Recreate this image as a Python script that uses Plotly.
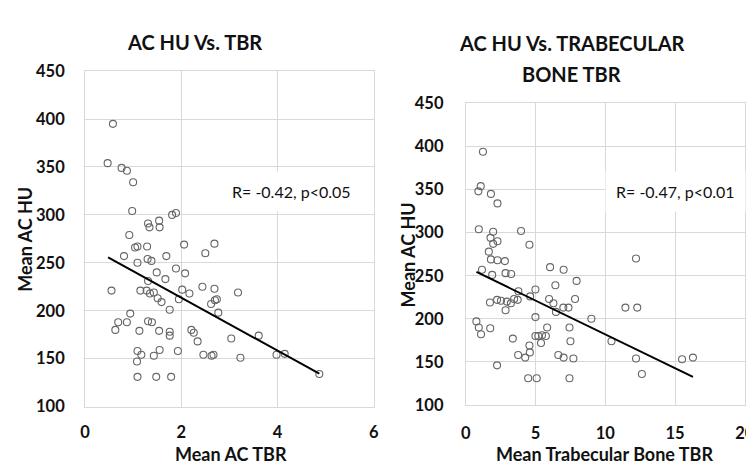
import plotly.graph_objects as go

# Left chart: Mean AC TBR vs Mean AC HU
ac_tbr = [0.58, 0.47, 0.76, 0.87, 1.00, 0.98, 1.31, 1.34, 1.54, 1.55, 1.81, 1.89, 0.92,
          1.04, 1.09, 1.29, 2.06, 2.69, 0.81, 2.50, 1.09, 1.30, 1.38, 1.69, 1.49, 1.89,
          2.08, 1.67, 1.31, 0.55, 1.15, 1.28, 1.35, 1.43, 1.51, 1.59, 2.02, 2.17, 1.95,
          2.44, 2.69, 3.18, 2.74, 2.70, 2.62, 2.77, 1.76, 0.94, 0.69, 0.87, 0.63, 1.13,
          1.31, 1.39, 1.54, 1.76, 1.76, 2.21, 2.26, 2.34, 3.04, 3.61, 1.09, 1.17, 1.55,
          1.43, 1.93, 2.46, 2.63, 2.67, 3.23, 1.08, 1.09, 1.48, 1.79, 3.98, 4.15, 4.87]
ac_hu_left = [395, 354, 349, 346, 334, 304, 291, 287, 294, 287, 300, 302, 279,
              266, 267, 267, 269, 270, 257, 260, 250, 254, 252, 257, 240, 244,
              239, 233, 231, 221, 221, 221, 218, 219, 213, 209, 222, 218, 212,
              225, 223, 219, 212, 211, 207, 198, 201, 197, 188, 188, 180, 179,
              189, 188, 179, 178, 174, 180, 177, 168, 171, 174, 158, 154, 159,
              153, 158, 154, 153, 154, 151, 147, 131, 131, 131, 154, 155, 134]
trend_left_x = [0.48, 4.87]
trend_left_y = [255.7, 134.3]

# Right chart: Mean Trabecular Bone TBR vs Mean AC HU
tb_tbr = [1.23, 1.07, 0.90, 1.80, 2.27, 0.93, 1.96, 3.96, 1.77, 2.27, 1.96, 4.56, 1.65,
          1.80, 2.27, 2.80, 6.04, 7.01, 1.16, 1.89, 2.85, 3.25, 7.94, 6.42, 3.77, 4.99,
          4.61, 1.73, 2.24, 2.52, 2.94, 3.23, 3.46, 3.72, 2.85, 5.97, 6.28, 7.83, 6.99,
          7.36, 6.46, 4.99, 9.00, 0.76, 0.93, 1.09, 1.75, 7.43, 5.83, 4.99, 5.20, 5.46,
          5.74, 5.39, 3.37, 7.50, 4.56, 4.59, 3.75, 4.26, 6.63, 7.01, 7.71, 10.44, 2.24,
          4.47, 5.08, 7.43, 12.20, 11.44, 12.29, 12.20, 12.62, 15.50, 16.28]
ac_hu_right = [394, 354, 348, 345, 334, 304, 301, 302, 294, 290, 287, 286, 278,
               269, 268, 267, 260, 257, 257, 251, 253, 252, 244, 239, 232, 234,
               226, 219, 222, 221, 220, 218, 223, 222, 210, 223, 218, 223, 213,
               213, 208, 202, 200, 197, 190, 182, 189, 190, 190, 180, 180, 181,
               180, 172, 177, 174, 169, 161, 158, 155, 158, 155, 154, 174, 146,
               131, 131, 131, 270, 213, 213, 154, 136, 153, 155]
trend_right_x = [0.76, 16.28]
trend_right_y = [254.4, 132.6]

y_ticks = [100, 150, 200, 250, 300, 350, 400, 450]
left_x_ticks = [0, 2, 4, 6]
right_x_ticks = [0, 5, 10, 15, 20]


def bold(vals):
    return ["<b>%s</b>" % v for v in vals]


FONT = "Lato"
GRID = "#d9d9d9"
TXT = "#111111"
MARK = dict(symbol="circle-open", size=7, color="#666666", line=dict(width=1.1, color="#666666"))

fig = go.Figure()
fig.add_trace(go.Scatter(x=ac_tbr, y=ac_hu_left, mode="markers", marker=MARK,
                         xaxis="x", yaxis="y", showlegend=False))
fig.add_trace(go.Scatter(x=trend_left_x, y=trend_left_y, mode="lines",
                         line=dict(color="black", width=2), xaxis="x", yaxis="y", showlegend=False))
fig.add_trace(go.Scatter(x=tb_tbr, y=ac_hu_right, mode="markers", marker=MARK,
                         xaxis="x2", yaxis="y2", showlegend=False))
fig.add_trace(go.Scatter(x=trend_right_x, y=trend_right_y, mode="lines",
                         line=dict(color="black", width=2), xaxis="x2", yaxis="y2", showlegend=False))

tickfont = dict(family=FONT, size=16.5, color=TXT, weight=700)
ax_common = dict(showgrid=True, gridcolor=GRID, gridwidth=1, showline=True, linecolor=GRID,
                 mirror=True, zeroline=False, ticks="", tickfont=tickfont)

fig.update_layout(
    width=754, height=466,
    margin=dict(l=0, r=0, t=0, b=0),
    paper_bgcolor="white", plot_bgcolor="white",
    xaxis=dict(domain=[73.5 / 754, 368 / 754], range=[0, 6], tickvals=left_x_ticks,
               ticktext=bold(left_x_ticks), anchor="y", ticklabelstandoff=11, **ax_common),
    yaxis=dict(domain=[(466 - 406) / 466, (466 - 55.5) / 466], range=[100, 450], tickvals=y_ticks,
               ticktext=bold(y_ticks), anchor="x", ticklabelstandoff=16, **ax_common),
    xaxis2=dict(domain=[462 / 754, 746.7 / 754], range=[0, 20], tickvals=right_x_ticks,
                ticktext=bold(right_x_ticks), anchor="y2", ticklabelstandoff=13, **ax_common),
    yaxis2=dict(domain=[(466 - 404.3) / 466, (466 - 89.3) / 466], range=[100, 450], tickvals=y_ticks,
                ticktext=bold(y_ticks), anchor="x2", ticklabelstandoff=18, **ax_common),
)

title_font = dict(family=FONT, size=20, color=TXT)
label_font = dict(family=FONT, size=18, color=TXT)
ann_font = dict(family=FONT, size=16, color=TXT)

annotations = [
    dict(text="<b>AC HU Vs. TBR</b>", x=185, y=25, font=title_font),
    dict(text="<b>AC HU Vs. TRABECULAR</b>", x=570, y=26, font=title_font),
    dict(text="<b>BONE TBR</b>", x=570, y=58, font=title_font),
    dict(text="<b>Mean AC HU</b>", x=12, y=231, font=label_font, textangle=-90),
    dict(text="<b>Mean AC TBR</b>", x=222, y=456, font=label_font),
    dict(text="<b>Mean AC HU</b>", x=403, y=247, font=label_font, textangle=-90),
    dict(text="<b>Mean Trabecular Bone TBR</b>", x=604, y=456, font=label_font),
    dict(text="R= -0.42, p<0.05", x=284, y=181, font=ann_font, bgcolor="white", pad=10),
    dict(text="R= -0.47, p<0.01", x=676, y=181, font=ann_font, bgcolor="white", pad=10),
]
for a in annotations:
    fig.add_annotation(text=a["text"], xref="paper", yref="paper",
                       x=a["x"] / 754, y=1 - a["y"] / 466, xanchor="center", yanchor="middle",
                       showarrow=False, font=a["font"], textangle=a.get("textangle", 0),
                       bgcolor=a.get("bgcolor", "rgba(0,0,0,0)"), borderpad=a.get("pad", 1))

fig.write_html("out.html")
